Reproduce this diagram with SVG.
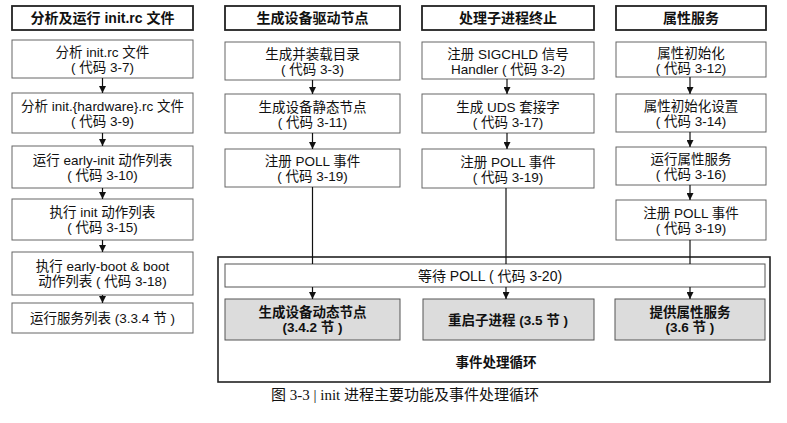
<svg xmlns="http://www.w3.org/2000/svg" width="787" height="423" viewBox="0 0 787 423">
<style>
text{font-family:"Liberation Sans","Noto Sans CJK SC",sans-serif;font-size:13.5px;fill:#111;text-anchor:middle}
.hdr rect{fill:#fff;stroke:#222;stroke-width:1.8}
.hdr text{font-size:14px;font-weight:bold}
.box rect{fill:#fff;stroke:#666;stroke-width:1}
.gray rect{fill:#dcdcdc;stroke:#555;stroke-width:1}
.gray text{font-weight:bold}
.poll rect{fill:#fff;stroke:#555;stroke-width:1}
.poll text{font-size:14px}
.loop rect{fill:#fff;stroke:#222;stroke-width:1.6}
.loop text{font-weight:bold}
.cap{font-family:"Liberation Serif","Noto Sans CJK SC",serif;font-size:15px}
.conn line{stroke:#111;stroke-width:1.2}
.arr{marker-end:url(#ah)}
</style>
<defs>
<marker id="ah" viewBox="0 0 10 10" refX="10" refY="5" markerWidth="7" markerHeight="7" markerUnits="userSpaceOnUse" orient="auto">
<path d="M0,0 L10,5 L0,10 z" fill="#111"/>
</marker>
</defs>
<rect width="787" height="423" fill="#fff"/>

<!-- event loop container -->
<g id="loop" class="loop">
<rect x="218" y="257" width="552" height="125"/>
<text x="496" y="367">事件处理循环</text>
</g>

<!-- column 1 -->
<g id="h1" class="hdr"><rect x="12" y="6" width="181" height="24"/><text x="102.5" y="23">分析及运行 init.rc 文件</text></g>
<g id="c1b1" class="box"><rect x="12" y="40" width="181" height="38"/><text x="102.5" y="57">分析 init.rc 文件</text><text x="102.5" y="72">( 代码 3-7)</text></g>
<g id="c1b2" class="box"><rect x="12" y="93" width="181" height="40"/><text x="102.5" y="111">分析 init.{hardware}.rc 文件</text><text x="102.5" y="126">( 代码 3-9)</text></g>
<g id="c1b3" class="box"><rect x="12" y="146" width="181" height="42"/><text x="102.5" y="165">运行 early-init 动作列表</text><text x="102.5" y="180">( 代码 3-10)</text></g>
<g id="c1b4" class="box"><rect x="12" y="199" width="181" height="41"/><text x="102.5" y="217">执行 init 动作列表</text><text x="102.5" y="232">( 代码 3-15)</text></g>
<g id="c1b5" class="box"><rect x="12" y="252" width="181" height="43"/><text x="102.5" y="271">执行 early-boot &amp; boot</text><text x="102.5" y="286">动作列表 ( 代码 3-18)</text></g>
<g id="c1b6" class="box"><rect x="12" y="303" width="181" height="30"/><text x="102.5" y="322.5">运行服务列表 (3.3.4 节 )</text></g>

<!-- column 2 -->
<g id="h2" class="hdr"><rect x="225" y="6" width="175" height="24"/><text x="312.5" y="23">生成设备驱动节点</text></g>
<g id="c2b1" class="box"><rect x="225" y="42" width="175" height="38"/><text x="312.5" y="59">生成并装载目录</text><text x="312.5" y="74">( 代码 3-3)</text></g>
<g id="c2b2" class="box"><rect x="225" y="94" width="175" height="39"/><text x="312.5" y="111.5">生成设备静态节点</text><text x="312.5" y="126.5">( 代码 3-11)</text></g>
<g id="c2b3" class="box"><rect x="225" y="149" width="175" height="38"/><text x="312.5" y="166">注册 POLL 事件</text><text x="312.5" y="181">( 代码 3-19)</text></g>

<!-- column 3 -->
<g id="h3" class="hdr"><rect x="422" y="6" width="172" height="24"/><text x="508" y="23">处理子进程终止</text></g>
<g id="c3b1" class="box"><rect x="422" y="42" width="172" height="37"/><text x="508" y="58.5">注册 SIGCHLD 信号</text><text x="508" y="73.5">Handler ( 代码 3-2)</text></g>
<g id="c3b2" class="box"><rect x="422" y="94" width="172" height="39"/><text x="508" y="111.5">生成 UDS 套接字</text><text x="508" y="126.5">( 代码 3-17)</text></g>
<g id="c3b3" class="box"><rect x="422" y="149" width="172" height="39"/><text x="508" y="166.5">注册 POLL 事件</text><text x="508" y="181.5">( 代码 3-19)</text></g>

<!-- column 4 -->
<g id="h4" class="hdr"><rect x="616" y="6" width="150" height="24"/><text x="691" y="23">属性服务</text></g>
<g id="c4b1" class="box"><rect x="616" y="42" width="150" height="35"/><text x="691" y="57.5">属性初始化</text><text x="691" y="72.5">( 代码 3-12)</text></g>
<g id="c4b2" class="box"><rect x="616" y="94" width="150" height="38"/><text x="691" y="111">属性初始化设置</text><text x="691" y="126">( 代码 3-14)</text></g>
<g id="c4b3" class="box"><rect x="616" y="147" width="150" height="38"/><text x="691" y="164">运行属性服务</text><text x="691" y="179">( 代码 3-16)</text></g>
<g id="c4b4" class="box"><rect x="616" y="200" width="150" height="40"/><text x="691" y="218">注册 POLL 事件</text><text x="691" y="233">( 代码 3-19)</text></g>

<!-- poll & handlers -->
<g id="poll" class="poll"><rect x="225" y="264" width="540" height="23"/><text x="490" y="280.5">等待 POLL ( 代码 3-20)</text></g>
<g id="g1" class="gray"><rect x="225" y="299" width="175" height="41"/><text x="312.5" y="317">生成设备动态节点</text><text x="312.5" y="332">(3.4.2 节 )</text></g>
<g id="g2" class="gray"><rect x="423" y="299" width="171" height="41"/><text x="508" y="324.5">重启子进程 (3.5 节 )</text></g>
<g id="g3" class="gray"><rect x="615" y="299" width="150" height="41"/><text x="690" y="317">提供属性服务</text><text x="690" y="332">(3.6 节 )</text></g>

<!-- connectors -->
<g id="connectors" class="conn">
<line class="arr" x1="102.5" y1="78" x2="102.5" y2="93"/>
<line class="arr" x1="102.5" y1="133" x2="102.5" y2="146"/>
<line class="arr" x1="102.5" y1="188" x2="102.5" y2="199"/>
<line class="arr" x1="102.5" y1="240" x2="102.5" y2="252"/>
<line class="arr" x1="102.5" y1="295" x2="102.5" y2="303"/>
<line class="arr" x1="312.5" y1="80" x2="312.5" y2="94"/>
<line class="arr" x1="312.5" y1="133" x2="312.5" y2="149"/>
<line x1="312.5" y1="187" x2="312.5" y2="264"/>
<line class="arr" x1="507" y1="79" x2="507" y2="94"/>
<line class="arr" x1="507" y1="133" x2="507" y2="149"/>
<line x1="506" y1="188" x2="506" y2="264"/>
<line class="arr" x1="690" y1="77" x2="690" y2="94"/>
<line class="arr" x1="690" y1="132" x2="690" y2="147"/>
<line class="arr" x1="690" y1="185" x2="690" y2="200"/>
<line x1="690" y1="240" x2="690" y2="264"/>
<line class="arr" x1="312.5" y1="287" x2="312.5" y2="299"/>
<line class="arr" x1="506" y1="287" x2="506" y2="299"/>
<line class="arr" x1="690" y1="287" x2="690" y2="299"/>
</g>

<text class="cap" x="405" y="400">图 3-3 | init 进程主要功能及事件处理循环</text>
</svg>
